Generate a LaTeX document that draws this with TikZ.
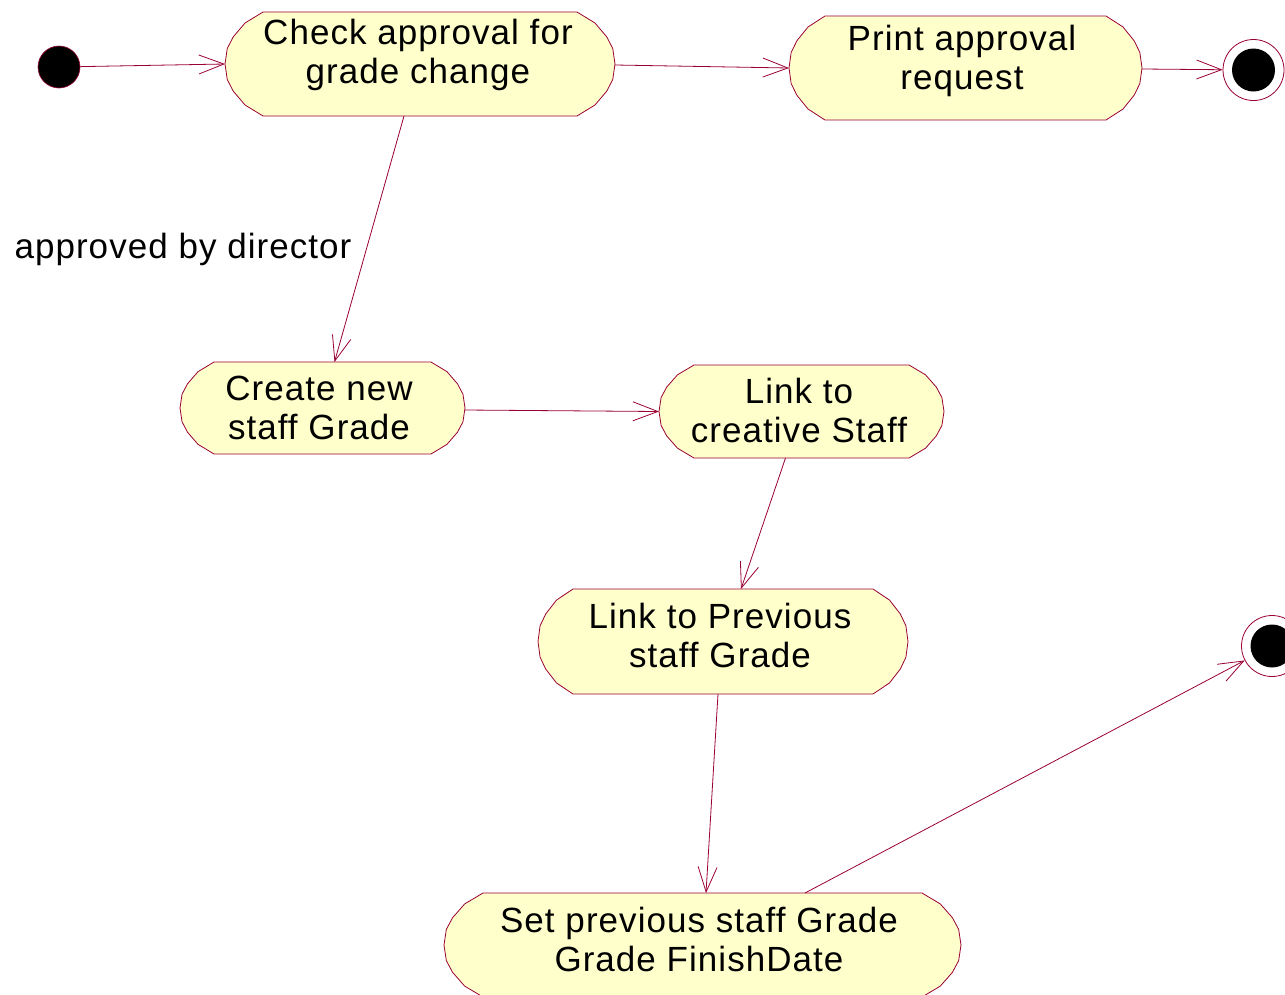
\documentclass[tikz,border=0pt]{standalone}
\usepackage{fontspec}
\setmainfont{Liberation Sans}[LetterSpace=3]
\usetikzlibrary{arrows.meta,backgrounds}
\definecolor{umlred}{RGB}{153,0,51}
\definecolor{umlfill}{RGB}{255,255,204}
% Outline of an activity state: flat top and bottom, faceted round ends.
% #1 node name, #2 depth of each end, #3 half height
\newcommand\actoutline[3]{%
  \filldraw[actline]
    ([xshift=#2pt]#1.north west) -- ([xshift=-#2pt]#1.north east)
    -- ([shift={({-0.53*#2},{-0.79*#3})}]#1.east)
    -- ([shift={({-0.22*#2},{-0.525*#3})}]#1.east)
    -- ([shift={({-0.06*#2},{-0.30*#3})}]#1.east)
    -- (#1.east)
    -- ([shift={({-0.06*#2},{0.30*#3})}]#1.east)
    -- ([shift={({-0.22*#2},{0.525*#3})}]#1.east)
    -- ([shift={({-0.53*#2},{0.79*#3})}]#1.east)
    -- ([xshift=-#2pt]#1.south east) -- ([xshift=#2pt]#1.south west)
    -- ([shift={({0.53*#2},{0.79*#3})}]#1.west)
    -- ([shift={({0.22*#2},{0.525*#3})}]#1.west)
    -- ([shift={({0.06*#2},{0.30*#3})}]#1.west)
    -- (#1.west)
    -- ([shift={({0.06*#2},{-0.30*#3})}]#1.west)
    -- ([shift={({0.22*#2},{-0.525*#3})}]#1.west)
    -- ([shift={({0.53*#2},{-0.79*#3})}]#1.west)
    -- cycle;}
\begin{document}
\begin{tikzpicture}[x=1pt,y=-1pt,
  act/.style={rectangle, inner sep=0pt, outer sep=0pt},
  actline/.style={draw=umlred, fill=umlfill, line width=0.8pt, line join=round},
  acttext/.style={align=center, inner sep=0pt,
    font=\fontsize{35}{39}\selectfont},
  flow/.style={draw=umlred, line width=0.8pt,
    -{Straight Barb[length=25pt,width=19pt,line width=0.8pt]}},
  startdot/.style={circle, fill=black, draw=umlred, line width=0.6pt,
    minimum size=42pt, inner sep=0pt},
  endring/.style={circle, fill=white, draw=umlred, line width=0.8pt,
    minimum size=61pt, inner sep=0pt},
  enddot/.style={circle, fill=black, minimum size=43pt, inner sep=0pt}]
\useasboundingbox (0,0) rectangle (1285,994);

% activity states (frames)
\node[act, minimum width=390pt, minimum height=104pt] (check) at (420,64) {};
\node[act, minimum width=353pt, minimum height=104pt] (print) at (965.5,68) {};
\node[act, minimum width=285pt, minimum height=92pt] (create) at (322.5,408) {};
\node[act, minimum width=285pt, minimum height=93pt] (creative) at (801.5,411.5) {};
\node[act, minimum width=370pt, minimum height=105pt] (prev) at (723,641.5) {};
\node[act, minimum width=517pt, minimum height=104pt] (finish) at (702.5,945) {};

\begin{scope}[on background layer]
  \actoutline{check}{38}{52}
  \actoutline{print}{36}{52}
  \actoutline{create}{34}{46}
  \actoutline{creative}{35}{46.5}
  \actoutline{prev}{35}{52.5}
  \actoutline{finish}{39}{52}
\end{scope}

% activity names
\node[acttext] (check-t) at (418,55) {Check approval for\\grade change};
\node[acttext] (print-t) at (962,61) {Print approval\\request};
\node[acttext] (create-t) at (319,408) {Create new\\staff Grade};
\node[acttext] (creative-t) at (799,410) {Link to\\creative Staff};
\node[acttext] (prev-t) at (720,635) {Link to Previous\\staff Grade};
\node[acttext] (finish-t) at (699,939) {Set previous staff Grade\\Grade FinishDate};

% initial and final states
\node[startdot] (start) at (59,67) {};
\node[endring] (end1) at (1253.5,70) {};
\node[enddot] (end1-dot) at (end1) {};
\node[endring] (end2) at (1272,646) {};
\node[enddot] (end2-dot) at (end2) {};

% guard label
\node[font=\fontsize{35}{39}\selectfont, inner sep=0pt] (guard) at (183,249) {approved by director};

% transitions
\draw[flow] (start) -- (check.west);
\draw[flow] ([yshift=-1pt]check.east) -- (print.west);
\draw[flow] ([yshift=-1pt]print.east) -- (end1);
\draw[flow] ([xshift=-16pt]check.south) -- ([xshift=12pt]create.north);
\draw[flow] ([yshift=-2pt]create.east) -- (creative.west);
\draw[flow] ([xshift=-16pt]creative.south) -- ([xshift=18pt]prev.north);
\draw[flow] ([xshift=-5pt]prev.south) -- ([xshift=3.5pt]finish.north);
\draw[flow] ([xshift=102.5pt]finish.north) -- (end2);
\end{tikzpicture}
\end{document}
